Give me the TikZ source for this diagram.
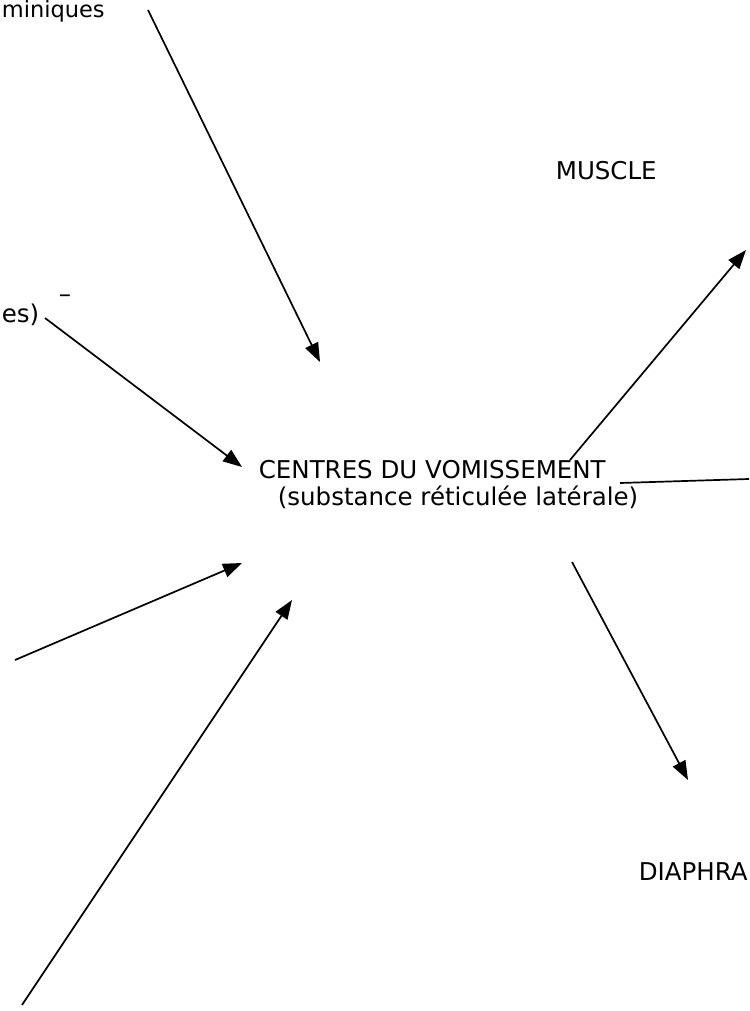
\documentclass[tikz,border=0pt]{standalone}
\usepackage{fontspec}
\setmainfont{DejaVu Sans}
\usetikzlibrary{arrows.meta}

\begin{document}
\begin{tikzpicture}[x=1pt, y=-1pt, line width=1.7pt,
    >={Triangle[length=19pt, width=14pt]},
    label/.style={anchor=base west, inner sep=0pt, font=\fontsize{24.5}{29}\selectfont}]
  \clip (0,0) rectangle (749,1011);
  % afferences (gauche)
  \coordinate (H0) at (148,10);   \coordinate (H1) at (320,362);
  \coordinate (G0) at (45,318);   \coordinate (G1) at (242,467);
  \coordinate (M0) at (15,660);   \coordinate (M1) at (242,563);
  \coordinate (B0) at (22,1005);  \coordinate (B1) at (292,600);
  % efferences (droite)
  \coordinate (R0) at (570,460);  \coordinate (R1) at (746,250);
  \coordinate (D0) at (572,562);  \coordinate (D1) at (688,780);
  \coordinate (E0) at (620,483);  \coordinate (E1) at (749,479);

  \draw[->] (H0) -- (H1);
  \draw[->] (G0) -- (G1);
  \draw[->] (M0) -- (M1);
  \draw[->] (B0) -- (B1);
  \draw[->] (R0) -- (R1);
  \draw[->] (D0) -- (D1);
  \draw (E0) -- (E1);

  \node[label] (centre) at (258,478) {CENTRES DU VOMISSEMENT};
  \node[label] (sub) at (277,505) {(substance réticulée latérale)};
  \node[label, font=\fontsize{22.5}{27}\selectfont] (hist) at (1,18) {miniques};
  \node[label] (tiret) at (58,302) {–};
  \node[label, anchor=base east] (par) at (40,322) {es)};
  \node[label] (muscle) at (555,180) {MUSCLE};
  \node[label] (diaph) at (638,880) {DIAPHRA};
\end{tikzpicture}
\end{document}
